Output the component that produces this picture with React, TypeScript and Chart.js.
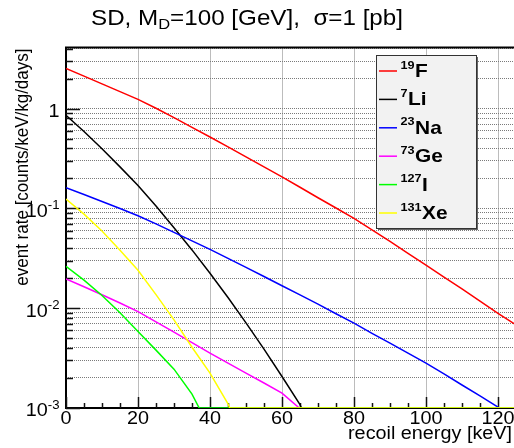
import React, { useEffect, useRef } from "react";
import { Chart, registerables } from "chart.js";

Chart.register(...registerables);

// ---- text ----
const titleMain = "SD, M";
const titleSub = "D";
const titleRest = "=100 [GeV],  \u03c3=1 [pb]";
const xAxisTitle = "recoil energy [keV]";
const yAxisTitle = "event rate [counts/keV/kg/days]";

// ---- series labels / colours ----
const isotopeMass = ["19", "7", "23", "73", "127", "131"];
const isotopeSymbol = ["F", "Li", "Na", "Ge", "I", "Xe"];
const seriesColors = ["#ff0000", "#000000", "#0000ff", "#ff00ff", "#00ff00", "#ffff00"];

// ---- data (recoil energy [keV] -> rate [counts/keV/kg/days]) ----
const fEnergy = [0, 5, 10, 15, 20, 25, 30, 35, 40, 45, 50, 55, 60, 65, 70, 75, 80, 85, 90, 95, 100, 105, 110, 115, 120, 125];
const fRate = [2.53, 2.12, 1.77, 1.48, 1.24, 1.01, 0.813, 0.65, 0.52, 0.413, 0.328, 0.261, 0.207, 0.163, 0.128, 0.101, 0.0794, 0.061, 0.0468, 0.0355, 0.0271, 0.0205, 0.0156, 0.0118, 0.0089, 0.0068];

const liEnergy = [0, 5, 10, 15, 20, 25, 30, 35, 40, 45, 50, 55, 60, 65, 65.4, 125];
const liRate = [0.857, 0.59, 0.396, 0.261, 0.17, 0.106, 0.064, 0.0384, 0.0224, 0.0128, 0.00713, 0.00389, 0.00207, 0.00108, 0.001, 0.001];

const naEnergy = [0, 5, 10, 15, 20, 25, 30, 35, 40, 45, 50, 55, 60, 65, 70, 75, 80, 85, 90, 95, 100, 105, 110, 115, 120, 120.3, 125];
const naRate = [0.161, 0.138, 0.1175, 0.1, 0.0845, 0.07, 0.0575, 0.0473, 0.0389, 0.0316, 0.0257, 0.0208, 0.0168, 0.0136, 0.011, 0.0088, 0.0071, 0.0056, 0.00447, 0.00355, 0.00282, 0.0022, 0.0017, 0.00132, 0.00102, 0.001, 0.001];

const geEnergy = [0, 5, 10, 15, 20, 25, 30, 35, 40, 45, 50, 55, 60, 64.8, 125];
const geRate = [0.0196, 0.0164, 0.01365, 0.01127, 0.00925, 0.00731, 0.00575, 0.00452, 0.00355, 0.00282, 0.00224, 0.00178, 0.00141, 0.001, 0.001];

const iEnergy = [0, 5, 10, 15, 20, 25, 30, 35, 37, 125];
const iRate = [0.0263, 0.0191, 0.0134, 0.00902, 0.00583, 0.0038, 0.00245, 0.00138, 0.001, 0.001];

const xeEnergy = [0, 5, 10, 15, 20, 25, 30, 35, 40, 45, 45.5, 125];
const xeRate = [0.124, 0.0877, 0.0593, 0.0381, 0.024, 0.0137, 0.00764, 0.00406, 0.00224, 0.0011, 0.001, 0.001];

// ---- axes ----
const xMin = 0;
const xMax = 125;
const xTickValues = [0, 20, 40, 60, 80, 100, 120];
const xGridValues = [20, 40, 60, 80, 100, 120];
const xMinorStep = 5;
const yMin = 0.001;
const yMax = 4.1;
const yDecades = [0.001, 0.01, 0.1, 1];
const yTickBase = ["10", "10", "10", "1"];
const yTickExp = ["-3", "-2", "-1", ""];

const FONT = '"Liberation Sans", Arial, Helvetica, sans-serif';
const SX = 1.1; // horizontal stretch of the reference's lettering

function stretchedText(ctx: any, text: string, x: number, y: number, align: string) {
  ctx.save();
  ctx.translate(x, y);
  ctx.scale(SX, 1);
  ctx.textAlign = align;
  ctx.fillText(text, 0, 0);
  ctx.restore();
}

export default function App() {
  const ref = useRef<HTMLCanvasElement>(null);

  useEffect(() => {
    const canvas = ref.current;
    if (!canvas) return;

    const series = [
      { e: fEnergy, r: fRate },
      { e: liEnergy, r: liRate },
      { e: naEnergy, r: naRate },
      { e: geEnergy, r: geRate },
      { e: iEnergy, r: iRate },
      { e: xeEnergy, r: xeRate },
    ];

    const datasets = series.map((s, i) => ({
      label: isotopeMass[i] + isotopeSymbol[i],
      data: s.e.map((x, k) => ({ x, y: s.r[k] })),
      borderColor: seriesColors[i],
      backgroundColor: seriesColors[i],
      borderWidth: 1.5,
      pointRadius: 0,
      tension: 0,
      fill: false,
      order: series.length - i,
    }));

    const yMinorValues: number[] = [];
    yDecades.forEach((d) => {
      for (let m = 2; m <= 9; m++) {
        const v = m * d;
        if (v <= yMax) yMinorValues.push(v);
      }
    });
    const yGridValues = [...yDecades.filter((v) => v > yMin), ...yMinorValues].sort((a, b) => a - b);

    const decor = {
      id: "decor",
      beforeDatasetsDraw(chart: any) {
        const { ctx, chartArea } = chart;
        const xs = chart.scales.x;
        const ys = chart.scales.y;
        ctx.save();
        ctx.strokeStyle = "#000";
        ctx.lineWidth = 2;
        ctx.beginPath();
        ctx.rect(chartArea.left, chartArea.top, chartArea.right - chartArea.left, chartArea.bottom - chartArea.top);
        ctx.stroke();
        ctx.lineWidth = 1.5;
        ctx.strokeStyle = "#111";
        for (let v = xMin; v <= xMax; v += xMinorStep) {
          const px = Math.round(xs.getPixelForValue(v)) + 0.5;
          const len = v % 20 === 0 ? 11 : 5;
          ctx.beginPath();
          ctx.moveTo(px, chartArea.bottom);
          ctx.lineTo(px, chartArea.bottom - len);
          ctx.stroke();
        }
        yDecades.forEach((v) => {
          const py = Math.round(ys.getPixelForValue(v)) + 0.5;
          ctx.beginPath();
          ctx.moveTo(chartArea.left, py);
          ctx.lineTo(chartArea.left + 14, py);
          ctx.stroke();
        });
        yMinorValues.forEach((v) => {
          const py = Math.round(ys.getPixelForValue(v)) + 0.5;
          ctx.beginPath();
          ctx.moveTo(chartArea.left, py);
          ctx.lineTo(chartArea.left + 7, py);
          ctx.stroke();
        });
        ctx.restore();
      },
      afterDraw(chart: any) {
        const { ctx, chartArea } = chart;
        const xs = chart.scales.x;
        const ys = chart.scales.y;
        ctx.save();
        ctx.fillStyle = "#000";
        ctx.textBaseline = "alphabetic";

        // x tick labels
        ctx.font = `18px ${FONT}`;
        xTickValues.forEach((v) => {
          stretchedText(ctx, String(v), xs.getPixelForValue(v), chartArea.bottom + 16, "center");
        });

        // y tick labels
        yDecades.forEach((v, i) => {
          const py = ys.getPixelForValue(v);
          const right = chartArea.left - 6.5;
          let supW = 0;
          if (yTickExp[i]) {
            ctx.font = `12px ${FONT}`;
            supW = ctx.measureText(yTickExp[i]).width * SX;
            stretchedText(ctx, yTickExp[i], right, py + 0.8, "right");
          }
          ctx.font = `18px ${FONT}`;
          stretchedText(ctx, yTickBase[i], right - supW, py + 8.4, "right");
        });

        // axis titles
        ctx.font = `18px ${FONT}`;
        stretchedText(ctx, xAxisTitle, 512, 439, "right");
        ctx.font = `17px ${FONT}`;
        ctx.save();
        ctx.translate(28, chartArea.top + 1);
        ctx.rotate(-Math.PI / 2);
        ctx.scale(1, SX);
        ctx.textAlign = "right";
        ctx.fillText(yAxisTitle, 0, 0);
        ctx.restore();

        // title
        ctx.font = `22px ${FONT}`;
        const w1 = ctx.measureText(titleMain).width * SX;
        const w3 = ctx.measureText(titleRest).width * SX;
        ctx.font = `15px ${FONT}`;
        const w2 = ctx.measureText(titleSub).width * SX;
        const total = w1 + w2 + w3;
        let tx = 247 - total / 2;
        ctx.font = `22px ${FONT}`;
        stretchedText(ctx, titleMain, tx, 25, "left");
        tx += w1;
        ctx.font = `15px ${FONT}`;
        stretchedText(ctx, titleSub, tx, 29, "left");
        tx += w2;
        ctx.font = `22px ${FONT}`;
        stretchedText(ctx, titleRest, tx, 25, "left");

        // legend
        const lx = 376.5, ly = 55.5, lw = 100, lh = 173;
        ctx.fillStyle = "#666";
        ctx.fillRect(lx + 1.5, ly + 1.5, lw, lh);
        ctx.fillStyle = "#f2f2f2";
        ctx.fillRect(lx, ly, lw, lh);
        ctx.strokeStyle = "#333";
        ctx.lineWidth = 1;
        ctx.strokeRect(lx, ly, lw, lh);
        isotopeMass.forEach((mass, i) => {
          const ey = 71 + i * 28.4;
          ctx.strokeStyle = seriesColors[i];
          ctx.lineWidth = 1.5;
          ctx.beginPath();
          ctx.moveTo(379, ey);
          ctx.lineTo(397, ey);
          ctx.stroke();
          ctx.fillStyle = "#000";
          ctx.font = `bold 11.5px ${FONT}`;
          stretchedText(ctx, mass, 400.5, ey - 2.5, "left");
          const mw = ctx.measureText(mass).width * SX;
          ctx.font = `bold 19px ${FONT}`;
          stretchedText(ctx, isotopeSymbol[i], 400.5 + mw + 0.5, ey + 6, "left");
        });
        ctx.restore();
      },
    };

    const chart = new Chart(canvas, {
      type: "line",
      data: { datasets: datasets as any },
      options: {
        responsive: false,
        animation: false,
        devicePixelRatio: 1,
        events: [],
        layout: { padding: { left: 66, right: 14, top: 47.5, bottom: 40 } },
        plugins: {
          legend: { display: false },
          tooltip: { enabled: false },
          title: { display: false },
        },
        scales: {
          x: {
            type: "linear",
            min: xMin,
            max: xMax,
            bounds: "data",
            afterBuildTicks: (s: any) => {
              s.ticks = xGridValues.map((v) => ({ value: v }));
            },
            ticks: { display: false },
            grid: { color: "#7a7a7a", lineWidth: 1, drawTicks: false },
            border: { display: false, dash: [1, 1] },
          },
          y: {
            type: "logarithmic",
            min: yMin,
            max: yMax,
            bounds: "data",
            afterBuildTicks: (s: any) => {
              s.ticks = yGridValues.map((v) => ({ value: v }));
            },
            ticks: { display: false },
            grid: { color: "#7a7a7a", lineWidth: 1, drawTicks: false },
            border: { display: false, dash: [1, 1] },
          },
        },
      } as any,
      plugins: [decor],
    });

    return () => chart.destroy();
  }, []);

  return (
    <div
      style={{
        position: "absolute",
        left: 0,
        top: 0,
        width: 514,
        height: 448,
        overflow: "hidden",
        background: "#fff",
      }}
    >
      <canvas ref={ref} width={530} height={448} style={{ display: "block" }} />
    </div>
  );
}
